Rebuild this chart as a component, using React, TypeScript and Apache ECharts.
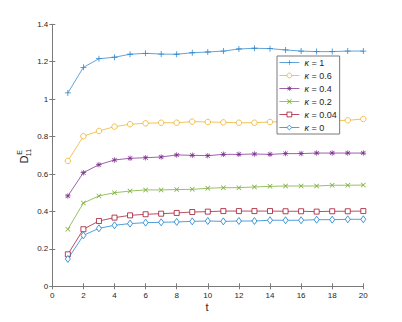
import React, { useEffect, useRef } from "react";
import * as echarts from "echarts";

const tValues = [1, 2, 3, 4, 5, 6, 7, 8, 9, 10, 11, 12, 13, 14, 15, 16, 17, 18, 19, 20];
const seriesNames = ["κ = 1", "κ = 0.6", "κ = 0.4", "κ = 0.2", "κ = 0.04", "κ = 0"];
const k1 = [1.033, 1.17, 1.216, 1.224, 1.24, 1.245, 1.241, 1.24, 1.248, 1.252, 1.257, 1.268, 1.272, 1.27, 1.263, 1.257, 1.254, 1.254, 1.257, 1.257];
const k06 = [0.67, 0.802, 0.83, 0.853, 0.866, 0.871, 0.874, 0.874, 0.88, 0.878, 0.876, 0.874, 0.874, 0.878, 0.88, 0.882, 0.883, 0.885, 0.887, 0.894];
const k04 = [0.483, 0.607, 0.65, 0.675, 0.684, 0.687, 0.691, 0.702, 0.7, 0.698, 0.705, 0.705, 0.707, 0.705, 0.709, 0.709, 0.712, 0.712, 0.712, 0.712];
const k02 = [0.305, 0.445, 0.483, 0.5, 0.509, 0.515, 0.515, 0.517, 0.518, 0.524, 0.527, 0.527, 0.531, 0.534, 0.536, 0.536, 0.536, 0.54, 0.54, 0.541];
const k004 = [0.171, 0.305, 0.349, 0.367, 0.379, 0.385, 0.388, 0.392, 0.397, 0.399, 0.402, 0.402, 0.402, 0.402, 0.401, 0.401, 0.399, 0.401, 0.401, 0.402];
const k0 = [0.146, 0.272, 0.31, 0.326, 0.335, 0.34, 0.342, 0.344, 0.347, 0.349, 0.347, 0.349, 0.349, 0.353, 0.353, 0.353, 0.356, 0.356, 0.358, 0.358];

const allValues = [k1, k06, k04, k02, k004, k0];
const colors = ["#2f86cc", "#EDB120", "#7E2F8E", "#77AC30", "#A2142F", "#1a7fcc"];

const PLUS = "path://M4.35,0H5.65V4.35H10V5.65H5.65V10H4.35V5.65H0V4.35H4.35Z";
const CROSS = "path://M1,0L5,4L9,0L10,1L6,5L10,9L9,10L5,6L1,10L0,9L4,5L0,1Z";
const STAR = "path://M4.4,0H5.6V3.6L8.6,0.9L9.4,1.8L6.3,4.4H10V5.6H6.3L9.4,8.2L8.6,9.1L5.6,6.4V10H4.4V6.4L1.4,9.1L0.6,8.2L3.7,5.6H0V4.4H3.7L0.6,1.8L1.4,0.9L4.4,3.6Z";

const symbols = [PLUS, "circle", STAR, CROSS, "rect", "diamond"];
const hollow = [false, true, false, false, true, true];
const symbolSizes: any[] = [6, 5.5, 5.5, 5, 5, [5, 7]];

const FONT = "'Liberation Sans', Arial, Helvetica, sans-serif";
const AXIS_COLOR = "#7a7a7a";
const TEXT_COLOR = "#262626";

export default function App() {
  const ref = useRef<HTMLDivElement>(null);
  useEffect(() => {
    if (!ref.current) return;
    const chart = echarts.init(ref.current, null, { renderer: "svg" });
    const xBase = {
      type: "value",
      min: 0,
      max: 20,
      interval: 2,
      splitLine: { show: false },
      axisLine: { show: true, lineStyle: { color: AXIS_COLOR, width: 1 } },
      axisTick: { show: true, inside: true, length: 3, lineStyle: { color: AXIS_COLOR } },
    };
    const yBase = {
      type: "value",
      min: 0,
      max: 1.4,
      interval: 0.2,
      splitLine: { show: false },
      axisLine: { show: true, lineStyle: { color: AXIS_COLOR, width: 1 } },
      axisTick: { show: true, inside: true, length: 3, lineStyle: { color: AXIS_COLOR } },
    };
    const labelStyle = { color: TEXT_COLOR, fontSize: 8, fontFamily: FONT };
    chart.setOption({
      animation: false,
      backgroundColor: "#ffffff",
      grid: { left: 52.3, right: 38.7, top: 24.3, bottom: 35.7 },
      xAxis: [
        { ...xBase, position: "bottom", axisLabel: { ...labelStyle, margin: 5 } },
        { ...xBase, position: "top", axisLabel: { show: false } },
      ],
      yAxis: [
        { ...yBase, position: "left", axisLabel: { ...labelStyle, margin: 4 } },
        { ...yBase, position: "right", axisLabel: { show: false } },
      ],
      legend: {
        orient: "vertical",
        left: 277,
        top: 56,
        padding: [2, 3, 2, 2],
        itemGap: 4,
        itemWidth: 20,
        itemHeight: 6,
        itemTextGap: 3,
        borderColor: AXIS_COLOR,
        borderWidth: 1,
        backgroundColor: "#ffffff",
        itemStyle: { borderWidth: 0.8 },
        lineStyle: { width: 0.75 },
        data: seriesNames,
        formatter: (name: string) => `{k|κ}{r|${name.slice(1)}}`,
        textStyle: {
          color: TEXT_COLOR,
          fontSize: 9,
          fontFamily: FONT,
          rich: {
            k: { fontStyle: "italic", fontSize: 9, fontFamily: FONT, color: TEXT_COLOR },
            r: { fontSize: 9, fontFamily: FONT, color: TEXT_COLOR },
          },
        },
      },
      series: seriesNames.map((name, i) => ({
        name,
        type: "line",
        xAxisIndex: 0,
        yAxisIndex: 0,
        data: tValues.map((t, j) => [t, allValues[i][j]]),
        symbol: symbols[i],
        symbolSize: symbolSizes[i],
        showSymbol: true,
        lineStyle: { color: colors[i], width: 0.75 },
        itemStyle: hollow[i]
          ? { color: "#ffffff", borderColor: colors[i], borderWidth: 0.8 }
          : { color: colors[i], borderWidth: 0 },
        z: 2 + i,
      })),
      graphic: [
        {
          type: "text",
          x: 207,
          y: 307,
          style: { text: "t", fontSize: 11, fontFamily: FONT, fill: TEXT_COLOR, align: "center", verticalAlign: "middle" },
        },
        {
          type: "text",
          x: 24,
          y: 159.5,
          rotation: Math.PI / 2,
          style: { text: "D", fontSize: 11, fontFamily: FONT, fill: TEXT_COLOR, align: "center", verticalAlign: "middle" },
        },
        {
          type: "text",
          x: 19.5,
          y: 152.5,
          rotation: Math.PI / 2,
          style: { text: "E", fontSize: 7, fontFamily: FONT, fill: TEXT_COLOR, align: "center", verticalAlign: "middle" },
        },
        {
          type: "text",
          x: 28.5,
          y: 152.5,
          rotation: Math.PI / 2,
          style: { text: "11", fontSize: 7, fontFamily: FONT, fill: TEXT_COLOR, align: "center", verticalAlign: "middle" },
        },
      ],
    });
    return () => chart.dispose();
  }, []);
  return <div ref={ref} style={{ position: "fixed", left: 0, top: 0, width: 402, height: 322 }} />;
}
